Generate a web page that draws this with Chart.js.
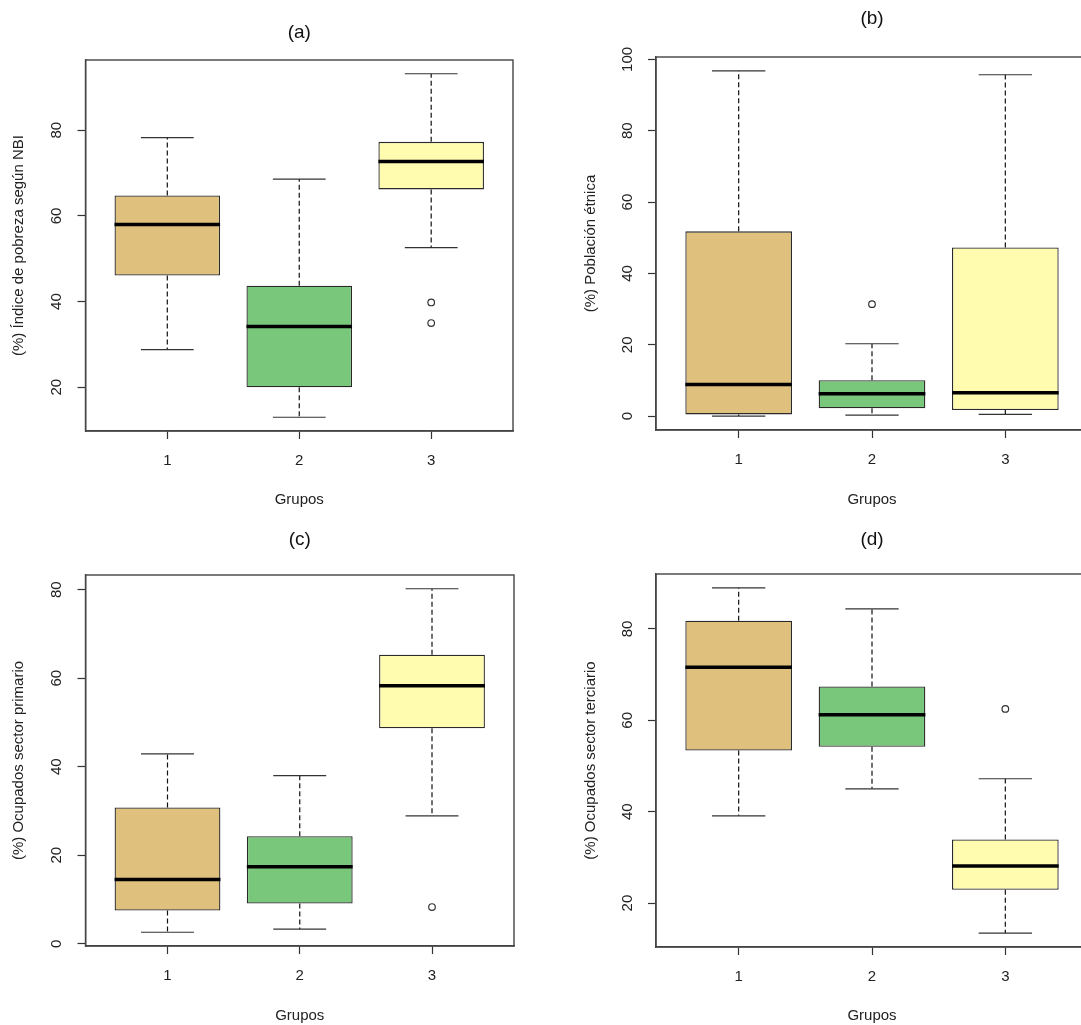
<!DOCTYPE html>
<html>
<head>
<meta charset="utf-8">
<script src="https://cdn.jsdelivr.net/npm/chart.js@4.4.1/dist/chart.umd.min.js"></script>
<style>
  body { margin: 0; background: #fff; }
  #wrap { position: relative; width: 1081px; height: 1025px; overflow: hidden; background: #fff; }
  .panel { position: absolute; }
</style>
</head>
<body>
<div id="wrap">
  <canvas class="panel" id="chartA" width="540" height="512" style="left:0;top:0"></canvas>
  <canvas class="panel" id="chartB" width="560" height="512" style="left:540px;top:0"></canvas>
  <canvas class="panel" id="chartC" width="540" height="513" style="left:0;top:512px"></canvas>
  <canvas class="panel" id="chartD" width="560" height="513" style="left:540px;top:512px"></canvas>
</div>
<script>
// groups on the x axis
const grupos = ['1', '2', '3'];
const colores = ['#DFC07C', '#79C77B', '#FFFCAF'];

// five-number summaries per group: [lower whisker, Q1, median, Q3, upper whisker]
const pobreza = [
    [28.8, 46.1, 58.0, 64.8, 78.3],
    [13.0, 20.0, 34.2, 43.7, 68.6],
    [52.6, 66.2, 72.7, 77.3, 93.2]
];
const pobrezaOut = [[], [], [39.8, 35.0]];
const pobrezaTicks = [20, 40, 60, 80];

const etnica = [
    [0.0, 0.5, 8.9, 51.8, 96.8],
    [0.3, 2.2, 6.3, 10.1, 20.3],
    [0.5, 1.7, 6.6, 47.3, 95.7]
];
const etnicaOut = [[], [31.4], []];
const etnicaTicks = [0, 20, 40, 60, 80, 100];

const primario = [
    [2.6, 7.5, 14.5, 30.8, 42.9],
    [3.3, 9.1, 17.4, 24.3, 38.0],
    [28.9, 48.7, 58.3, 65.3, 80.2]
];
const primarioOut = [[], [], [8.3]];
const primarioTicks = [0, 20, 40, 60, 80];

const terciario = [
    [39.1, 53.4, 71.6, 81.8, 89.0],
    [45.0, 54.2, 61.2, 67.4, 84.4],
    [13.4, 22.9, 28.1, 33.9, 47.2]
];
const terciarioOut = [[], [], [62.5]];
const terciarioTicks = [20, 40, 60, 80];

Chart.defaults.font.family = '"Liberation Sans", Arial, sans-serif';
Chart.defaults.color = '#222';

function line(ctx, x1, y1, x2, y2) {
    ctx.beginPath();
    ctx.moveTo(x1, y1);
    ctx.lineTo(x2, y2);
    ctx.stroke();
}

// whiskers, staples, medians, frame and rotated y labels (R style)
const boxDetail = {
    id: 'boxDetail',
    afterDatasetsDraw(chart, args, opts) {
        const { ctx, chartArea: a } = chart;
        const x = chart.scales.x;
        const y = chart.scales.y;
        ctx.save();
        opts.stats.forEach((s, i) => {
            const cx = x.getPixelForValue(i + 1);
            const half = x.getPixelForValue(i + 1.4) - cx;
            const cap = half / 2;
            const [lo, q1, med, q3, hi] = s.map(v => y.getPixelForValue(v));
            ctx.strokeStyle = '#111';
            ctx.lineWidth = 1.2;
            ctx.setLineDash([5, 3]);
            line(ctx, cx, q1, cx, lo);
            line(ctx, cx, q3, cx, hi);
            ctx.setLineDash([]);
            ctx.strokeStyle = '#333';
            line(ctx, cx - cap, lo, cx + cap, lo);
            line(ctx, cx - cap, hi, cx + cap, hi);
            ctx.strokeStyle = '#000';
            ctx.lineWidth = 3.5;
            line(ctx, cx - half, med, cx + half, med);
        });

        ctx.strokeStyle = '#444';
        ctx.lineWidth = 1.4;
        ctx.strokeRect(a.left, a.top, a.right - a.left, a.bottom - a.top);

        ctx.fillStyle = '#222';
        ctx.font = '15px "Liberation Sans", Arial, sans-serif';
        ctx.textAlign = 'center';
        ctx.textBaseline = 'middle';
        y.ticks.forEach(t => {
            ctx.save();
            ctx.translate(a.left - 28.5, y.getPixelForValue(t.value));
            ctx.rotate(-Math.PI / 2);
            ctx.fillText(String(t.value), 0, 0);
            ctx.restore();
        });
        ctx.restore();
    }
};

function makePanel(id, cfg) {
    const all = cfg.stats.flat().concat(cfg.out.flat());
    const lo = Math.min(...all);
    const hi = Math.max(...all);
    const pad = (hi - lo) * 0.04;

    const puntos = [];
    cfg.out.forEach((vals, i) => vals.forEach(v => puntos.push({ x: i + 1, y: v })));

    const lh = 19 * 1.2;

    new Chart(document.getElementById(id), {
        type: 'bar',
        data: {
            datasets: [{
                data: cfg.stats.map((s, i) => ({ x: i + 1, y: [s[1], s[3]] })),
                backgroundColor: colores,
                borderColor: '#2a2a2a',
                borderWidth: 1.3,
                borderSkipped: false,
                barPercentage: 0.8,
                categoryPercentage: 1.0
            }, {
                type: 'scatter',
                data: puntos,
                pointStyle: 'circle',
                pointRadius: 3.3,
                pointBackgroundColor: 'rgba(0,0,0,0)',
                pointBorderColor: '#333',
                pointBorderWidth: 1.2
            }]
        },
        options: {
            responsive: false,
            animation: false,
            layout: { padding: { left: 0, right: cfg.padRight, top: 0, bottom: 0 } },
            plugins: {
                legend: { display: false },
                tooltip: { enabled: false },
                title: {
                    display: true,
                    text: cfg.title,
                    fullSize: false,
                    color: '#111',
                    font: { size: 19, weight: 'normal' },
                    padding: { top: cfg.titleY - lh / 2, bottom: cfg.top - cfg.titleY - lh / 2 }
                },
                boxDetail: { stats: cfg.stats }
            },
            scales: {
                x: {
                    type: 'linear',
                    offset: false,
                    min: 0.38,
                    max: 3.62,
                    afterBuildTicks: s => { s.ticks = grupos.map((g, i) => ({ value: i + 1 })); },
                    afterFit: s => { s.height = cfg.xHeight; },
                    ticks: {
                        callback: v => grupos[v - 1],
                        font: { size: 15 },
                        padding: cfg.tickPad,
                        maxRotation: 0
                    },
                    grid: { offset: false, drawOnChartArea: false, tickLength: 8, color: '#333', tickWidth: 1.2 },
                    border: { color: '#444', width: 1.4 },
                    title: {
                        display: true,
                        text: 'Grupos',
                        font: { size: 15 },
                        padding: { top: 0, bottom: cfg.xTitlePad }
                    }
                },
                y: {
                    type: 'linear',
                    min: lo - pad,
                    max: hi + pad,
                    afterBuildTicks: s => { s.ticks = cfg.ticks.map(v => ({ value: v })); },
                    afterFit: s => { s.width = cfg.left; },
                    ticks: { display: false },
                    grid: { drawOnChartArea: false, tickLength: 8, color: '#333', tickWidth: 1.2 },
                    border: { color: '#444', width: 1.4 },
                    title: {
                        display: true,
                        text: cfg.yTitle,
                        font: { size: 15 },
                        padding: { top: cfg.yTitlePad, bottom: 0 }
                    }
                }
            }
        },
        plugins: [boxDetail]
    });
}

makePanel('chartA', {
    title: '(a)', yTitle: '(%) Índice de pobreza según NBI',
    stats: pobreza, out: pobrezaOut, ticks: pobrezaTicks,
    left: 85.5, padRight: 27, top: 60, titleY: 33, xHeight: 81,
    tickPad: 13, xTitlePad: 3, yTitlePad: 10
});
makePanel('chartB', {
    title: '(b)', yTitle: '(%) Población étnica',
    stats: etnica, out: etnicaOut, ticks: etnicaTicks,
    left: 116, padRight: 12, top: 57, titleY: 19, xHeight: 82,
    tickPad: 13, xTitlePad: 3, yTitlePad: 42
});
makePanel('chartC', {
    title: '(c)', yTitle: '(%) Ocupados sector primario',
    stats: primario, out: primarioOut, ticks: primarioTicks,
    left: 85.5, padRight: 26, top: 63, titleY: 28, xHeight: 79,
    tickPad: 13, xTitlePad: 0, yTitlePad: 10
});
makePanel('chartD', {
    title: '(d)', yTitle: '(%) Ocupados sector terciario',
    stats: terciario, out: terciarioOut, ticks: terciarioTicks,
    left: 116, padRight: 12, top: 62, titleY: 28, xHeight: 78,
    tickPad: 13, xTitlePad: 0, yTitlePad: 42
});
</script>
</body>
</html>
